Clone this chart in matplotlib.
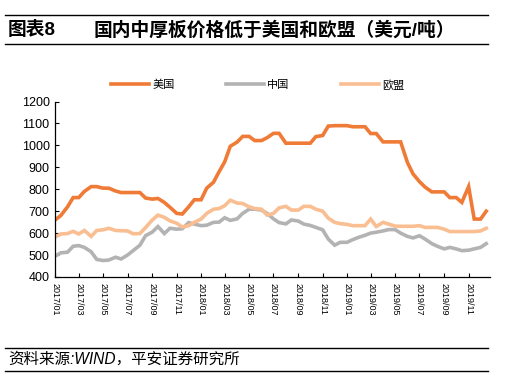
import numpy as np
import pandas as pd
import matplotlib
matplotlib.use('Agg')
import matplotlib.pyplot as plt
import matplotlib.dates as mdates

plt.rcParams['font.family'] = ['Liberation Sans', 'Noto Sans CJK SC', 'DejaVu Sans']

# semi-monthly prices, USD/t, 2017/01 - 2019/12
dates = pd.date_range('2017-01-01', periods=72, freq='SMS')

us = [660, 680, 720, 762, 762, 790, 812, 812, 805, 805, 792, 785,
      785, 785, 785, 760, 755, 758, 740, 718, 690, 687, 720, 752,
      752, 805, 832, 880, 925, 996, 1015, 1041, 1041, 1022, 1022, 1035,
      1055, 1055, 1010, 1010, 1010, 1010, 1010, 1040, 1045, 1088, 1090, 1090,
      1090, 1085, 1085, 1085, 1054, 1054, 1016, 1016, 1016, 1016, 922, 870,
      835, 810, 788, 788, 788, 762, 762, 740, 812, 664, 664, 700]

china = [495, 510, 513, 540, 543, 535, 515, 480, 475, 477, 490, 482,
         500, 520, 545, 588, 605, 630, 598, 622, 618, 620, 648, 641,
         634, 636, 649, 650, 670, 658, 665, 690, 709, 709, 705, 690,
         665, 648, 642, 660, 655, 641, 635, 626, 615, 573, 545, 558,
         558, 570, 582, 590, 600, 604, 610, 616, 616, 600, 585, 578,
         588, 573, 552, 540, 528, 535, 528, 520, 522, 528, 535, 552]

europe = [582, 596, 598, 608, 596, 612, 585, 612, 615, 622, 612, 611,
          610, 597, 598, 625, 660, 682, 672, 656, 645, 628, 634, 649,
          664, 690, 709, 712, 725, 750, 737, 735, 720, 712, 709, 682,
          690, 715, 722, 705, 705, 722, 722, 709, 700, 668, 649, 643,
          640, 634, 634, 634, 664, 630, 649, 641, 632, 631, 631, 631,
          634, 626, 626, 626, 618, 607, 607, 607, 607, 607, 610, 622]

names = ['美国', '中国', '欧盟']
colors = ['#EF7B36', '#B3B3B3', '#F9BE92']

fig = plt.figure(figsize=(5.06, 3.89), dpi=100)
ax = fig.add_axes([0.109, 0.288, 0.859, 0.451])

for vals, name, c in zip([us, china, europe], names, colors):
    ax.plot(dates, vals, color=c, lw=2.6, label=name, solid_joinstyle='miter')

ax.set_ylim(400, 1200)
ax.set_yticks(range(400, 1201, 100))
ax.set_xlim(pd.Timestamp('2017-01-01'), pd.Timestamp('2019-12-24'))
ax.xaxis.set_major_locator(mdates.MonthLocator(bymonth=[1, 3, 5, 7, 9, 11]))
ax.xaxis.set_major_formatter(mdates.DateFormatter('%Y/%m'))
ax.tick_params(axis='x', direction='in', length=3, labelsize=6.5, rotation=-90, pad=4)
ax.tick_params(axis='y', direction='in', length=3, labelsize=9, pad=4)
for lab in ax.get_xticklabels():
    lab.set_verticalalignment('top')
for s in ['top', 'right']:
    ax.spines[s].set_visible(False)
for s in ['left', 'bottom']:
    ax.spines[s].set_linewidth(0.9)

ax.legend(loc='center', bbox_to_anchor=(0.466, 1.095), ncol=3, frameon=False,
          fontsize=8, handlelength=3.4, columnspacing=4.65, handletextpad=0.3)

# header and footer
fig.add_artist(plt.Line2D([0.01, 0.965], [0.961, 0.961], color='black', lw=1.0))
fig.add_artist(plt.Line2D([0.01, 0.965], [0.887, 0.887], color='black', lw=1.0))
fig.text(0.016, 0.923, '图表8', fontsize=13.5, fontweight='bold', va='center')
fig.text(0.184, 0.923, '国内中厚板价格低于美国和欧盟（美元/吨）', fontsize=13.5,
         fontweight='bold', va='center')
fig.add_artist(plt.Line2D([0.01, 0.965], [0.106, 0.106], color='black', lw=1.0))
fig.add_artist(plt.Line2D([0.01, 0.965], [0.045, 0.045], color='black', lw=1.0))
fig.text(0.016, 0.077, '资料来源:WIND，平安证券研究所', fontsize=11.2, style='italic', va='center')

fig.savefig('out.png', dpi=100)
